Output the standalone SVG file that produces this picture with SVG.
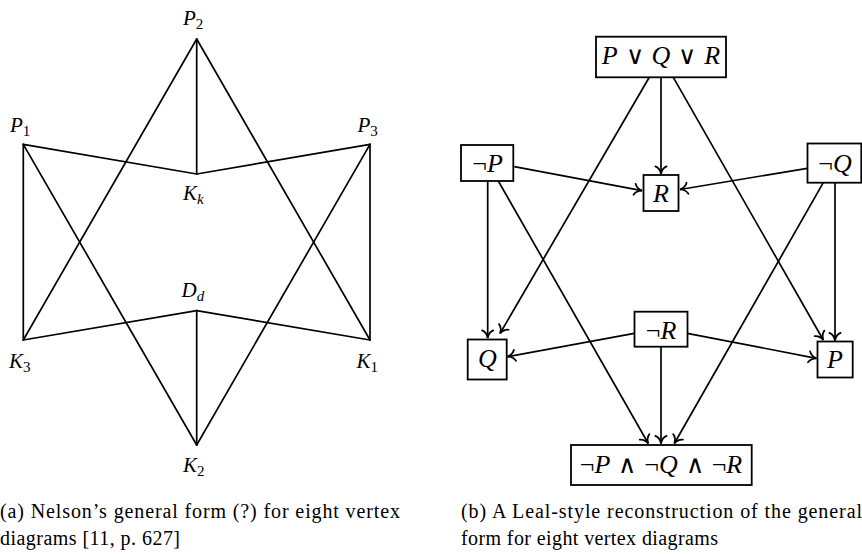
<svg xmlns="http://www.w3.org/2000/svg" width="862" height="554" viewBox="0 0 862 554">
<style>
.e{stroke:#000;stroke-width:1.7;fill:none;stroke-linecap:round;stroke-linejoin:round}
.a{stroke:#000;stroke-width:1.7;fill:none;marker-end:url(#to)}
.b{stroke:#000;stroke-width:1.8;fill:#fff}
.m{font-family:"Liberation Serif","Times New Roman",serif;font-style:italic;fill:#000}
.lab{font-size:21px}
.bx{font-size:26px;text-anchor:middle}
.sub{font-size:15px;font-style:normal}
.si{font-size:15px;font-style:italic}
.up{font-style:normal}
.op{font-family:"DejaVu Sans",sans-serif;font-style:normal;font-weight:200;font-size:25px}
.cap{font-family:"Liberation Serif","Times New Roman",serif;font-size:20px;fill:#000}
</style>
<defs>
<marker id="to" markerUnits="userSpaceOnUse" markerWidth="14" markerHeight="14" viewBox="-8 -6 10 12" refX="0" refY="0" orient="auto">
<path d="M -6.5 -4.8 C -5.2 -1.8 -2 -0.4 0 0 C -2 0.4 -5.2 1.8 -6.5 4.8" fill="none" stroke="#000" stroke-width="1.5" stroke-linecap="round"/>
</marker>
</defs>

<g id="nelson-edges">
<line class="e" x1="196.7" y1="39" x2="196.7" y2="174"/>
<line class="e" x1="196.7" y1="39" x2="23.3" y2="340"/>
<line class="e" x1="196.7" y1="39" x2="370" y2="340"/>
<line class="e" x1="23.3" y1="144.3" x2="196.7" y2="174"/>
<line class="e" x1="370" y1="144.3" x2="196.7" y2="174"/>
<line class="e" x1="23.3" y1="144.3" x2="23.3" y2="340"/>
<line class="e" x1="370" y1="144.3" x2="370" y2="340"/>
<line class="e" x1="23.3" y1="144.3" x2="196.7" y2="445"/>
<line class="e" x1="370" y1="144.3" x2="196.7" y2="445"/>
<line class="e" x1="196.7" y1="310.7" x2="23.3" y2="340"/>
<line class="e" x1="196.7" y1="310.7" x2="370" y2="340"/>
<line class="e" x1="196.7" y1="310.7" x2="196.7" y2="445"/>
</g>
<g id="P2"><text class="m lab" x="183" y="25">P<tspan class="sub" dy="4">2</tspan></text></g>
<g id="P1"><text class="m lab" x="10" y="131.5">P<tspan class="sub" dy="4">1</tspan></text></g>
<g id="P3"><text class="m lab" x="357.5" y="131.5">P<tspan class="sub" dy="4">3</tspan></text></g>
<g id="Kk"><text class="m lab" x="183" y="200">K<tspan class="si" dy="4">k</tspan></text></g>
<g id="Dd"><text class="m lab" x="181.5" y="296.5">D<tspan class="si" dy="4">d</tspan></text></g>
<g id="K3"><text class="m lab" x="9" y="368.3">K<tspan class="sub" dy="4">3</tspan></text></g>
<g id="K1"><text class="m lab" x="356.5" y="368.3">K<tspan class="sub" dy="4">1</tspan></text></g>
<g id="K2"><text class="m lab" x="183" y="471.5">K<tspan class="sub" dy="4">2</tspan></text></g>

<g id="connectors">
<line class="a" x1="661" y1="77.3" x2="661" y2="174"/>
<line class="a" x1="649.3" y1="77.3" x2="500" y2="333.5"/>
<line class="a" x1="673.3" y1="77.3" x2="823.3" y2="340"/>
<line class="a" x1="514.3" y1="166.7" x2="642" y2="190.7"/>
<line class="a" x1="807.3" y1="168.3" x2="680" y2="189.5"/>
<line class="a" x1="487.7" y1="181" x2="487.7" y2="338"/>
<line class="a" x1="498.3" y1="181" x2="648.3" y2="443.5"/>
<line class="a" x1="835" y1="182.7" x2="835" y2="340.5"/>
<line class="a" x1="823.3" y1="182.7" x2="674.3" y2="443.5"/>
<line class="a" x1="634.3" y1="333.3" x2="507.5" y2="356.7"/>
<line class="a" x1="687.3" y1="333.3" x2="816.5" y2="358.3"/>
<line class="a" x1="661" y1="346.7" x2="661" y2="443.5"/>
</g>

<g id="n-PQR"><rect class="b" x="596" y="36.7" width="130" height="40.6"/><text class="m bx" x="661" y="63.5">P<tspan class="op"> ∨ </tspan>Q<tspan class="op"> ∨ </tspan>R</text></g>
<g id="n-notP"><rect class="b" x="461" y="145" width="52.3" height="36"/><text class="m bx" x="487.5" y="172"><tspan class="up">¬</tspan>P</text></g>
<g id="n-notQ"><rect class="b" x="807.5" y="143.5" width="53.8" height="39.2"/><text class="m bx" x="835" y="171.5"><tspan class="up">¬</tspan>Q</text></g>
<g id="n-R"><rect class="b" x="643.5" y="175" width="35" height="36"/><text class="m bx" x="661" y="202">R</text></g>
<g id="n-Q"><rect class="b" x="467.7" y="339.5" width="39" height="40"/><text class="m bx" x="487.5" y="366.5">Q</text></g>
<g id="n-P"><rect class="b" x="817.5" y="341.5" width="35.2" height="36"/><text class="m bx" x="835" y="368">P</text></g>
<g id="n-notR"><rect class="b" x="634.5" y="311.7" width="53" height="35"/><text class="m bx" x="661" y="338.5"><tspan class="up">¬</tspan>R</text></g>
<g id="n-bottom"><rect class="b" x="571" y="445" width="180.7" height="40"/><text class="m bx" x="661" y="472.5"><tspan class="up">¬</tspan>P<tspan class="op"> ∧ </tspan><tspan class="up">¬</tspan>Q<tspan class="op"> ∧ </tspan><tspan class="up">¬</tspan>R</text></g>

<g id="captions">
<text class="cap" x="0" y="518.3" textLength="400" lengthAdjust="spacing">(a) Nelson’s general form (?) for eight vertex</text>
<text class="cap" x="0" y="544.5" textLength="180" lengthAdjust="spacing">diagrams [11, p. 627]</text>
<text class="cap" x="461" y="518.3" textLength="401" lengthAdjust="spacing">(b) A Leal-style reconstruction of the general</text>
<text class="cap" x="461" y="544.5" textLength="257" lengthAdjust="spacing">form for eight vertex diagrams</text>
</g>
</svg>
